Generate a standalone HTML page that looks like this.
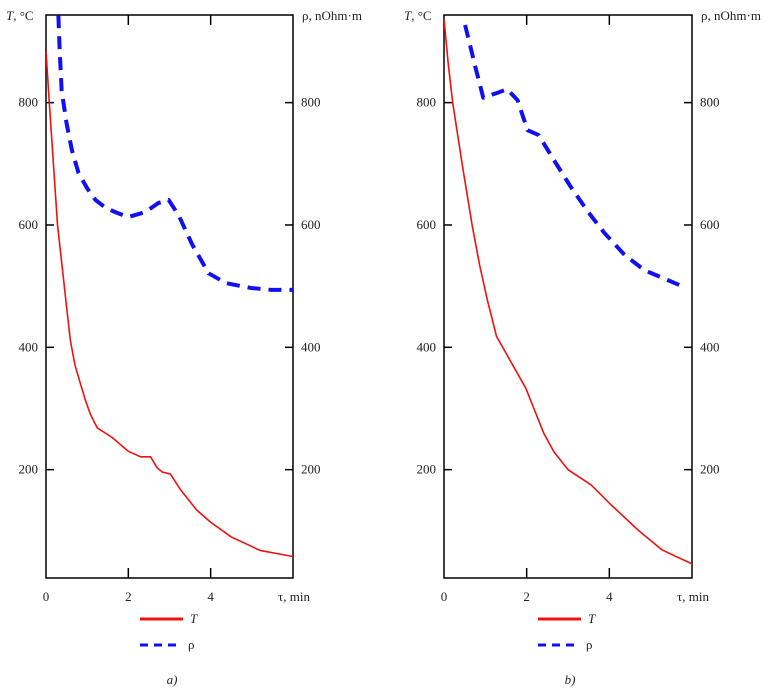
<!DOCTYPE html>
<html><head><meta charset="utf-8"><style>
html,body{margin:0;padding:0;background:#fff}
svg{display:block}
text{font-family:"Liberation Serif",serif;font-size:13px;fill:#222}
</style></head><body>
<svg id="chart" width="772" height="693" viewBox="0 0 772 693"></svg>
<script>
const timeTicks = [0, 2, 4];
const valueTicks = [200, 400, 600, 800];
const aTempTime = [0, 0.08, 0.18, 0.28, 0.41, 0.5, 0.59, 0.7, 0.83, 0.95, 1.07, 1.17, 1.25, 1.6, 2.0, 2.3, 2.54, 2.7, 2.83, 3.02, 3.27, 3.66, 4.0, 4.5, 5.2, 6.0];
const aTempValue = [884, 800, 700, 600, 521, 466, 412, 372, 342, 315, 292, 278, 268, 253, 230, 221, 221, 203, 196, 193, 167, 134, 114, 90, 68, 58];
const aRhoTime = [0.3, 0.33, 0.38, 0.5, 0.63, 0.79, 1.0, 1.2, 1.45, 1.72, 2.0, 2.41, 2.73, 2.98, 3.22, 3.56, 3.95, 4.37, 4.98, 5.46, 6.0];
const aRhoValue = [943, 889, 820, 766, 722, 685, 660, 641, 628, 620, 613, 621, 636, 641, 616, 567, 521, 505, 497, 494, 494];
const bTempTime = [0, 0.1, 0.21, 0.45, 0.68, 0.86, 1.05, 1.27, 1.98, 2.41, 2.66, 3.0, 3.56, 4.05, 4.7, 5.27, 6.0];
const bTempValue = [937, 865, 800, 695, 600, 535, 477, 418, 333, 260, 229, 200, 175, 142, 101, 69, 46];
const bRhoTime = [0.51, 0.76, 0.95, 1.29, 1.53, 1.78, 2.02, 2.29, 2.66, 3.07, 3.49, 3.88, 4.37, 4.85, 5.76];
const bRhoValue = [927, 858, 808, 816, 822, 804, 755, 747, 706, 662, 621, 587, 551, 526, 500];

const NS = "http://www.w3.org/2000/svg";
const svg = document.getElementById('chart');
function mk(tag, attrs, parent){const e=document.createElementNS(NS,tag);for(const k in attrs)e.setAttribute(k,attrs[k]);(parent||svg).appendChild(e);return e;}
function txt(x,y,s,anchor,parent,italic){const t=mk('text',{x:x,y:y,'text-anchor':anchor||'start'},parent);if(italic)t.setAttribute('font-style','italic');t.textContent=s;return t;}

function panel(id, left, right, tT, tV, rT, rV, label){
  const top=15, bottom=578;
  const xs = t => left + (right-left)*t/6;
  const ys = v => 592 - v*0.6117;
  const g = mk('g',{});
  
  
  const box = mk('rect',{x:left,y:top,width:right-left,height:bottom-top,fill:'none',stroke:'#000','stroke-width':1.5},g);
  
  
  timeTicks.forEach(t=>{
    if(t>0){
      const a=mk('line',{x1:xs(t),x2:xs(t),y1:bottom,y2:bottom-10,stroke:'#000','stroke-width':1.5},g);
      
      
      const b=mk('line',{x1:xs(t),x2:xs(t),y1:top,y2:top+10,stroke:'#000','stroke-width':1.5},g);
      
      
    }
    const l=txt(xs(t),601,String(t),'middle',g);
    
    
  });
  valueTicks.forEach(v=>{
    const a=mk('line',{x1:left,x2:left+8,y1:ys(v),y2:ys(v),stroke:'#000','stroke-width':1.5},g);
    
    
    const b=mk('line',{x1:right-8,x2:right,y1:ys(v),y2:ys(v),stroke:'#000','stroke-width':1.5},g);
    
    
    const l=txt(left-8,ys(v)+4,String(v),'end',g);
    
    
    const r=txt(right+8,ys(v)+4,String(v),'start',g);
    
    
  });
  const yt=mk('text',{x:left-40,y:20},g);
  
  
  yt.innerHTML='<tspan font-style="italic">T</tspan>, °C';
  const rt=txt(right+9,20,'ρ, nOhm·m','start',g);
  
  
  const xt=txt(right+17,601,'τ, min','end',g);
  
  
  const clip=mk('clipPath',{id:'clip'+id},g);
  mk('rect',{x:left,y:top,width:right-left,height:bottom-top},clip);
  const tp=mk('polyline',{points:tT.map((t,i)=>xs(t)+','+ys(tV[i])).join(' '),fill:'none',stroke:'#f01010','stroke-width':1.6,'stroke-linejoin':'round','clip-path':'url(#clip'+id+')'},g);
  
  
  const rp=mk('polyline',{points:rT.map((t,i)=>xs(t)+','+ys(rV[i])).join(' '),fill:'none',stroke:'#1010f0','stroke-width':4,'stroke-dasharray':'13 8','stroke-linejoin':'round','clip-path':'url(#clip'+id+')'},g);
  
  
  const lx=left+94;
  const l1=mk('line',{x1:lx,x2:lx+43,y1:619,y2:619,stroke:'#f01010','stroke-width':3},g);
  
  
  const lt=txt(lx+50,623,'T','start',g,true);
  
  
  const l2=mk('line',{x1:lx,x2:lx+39,y1:645,y2:645,stroke:'#1010f0','stroke-width':3,'stroke-dasharray':'8 6'},g);
  
  
  const lr=txt(lx+48,649,'ρ','start',g);
  
  
  const cap=txt(lx+32,684,label,'middle',g,true);
  
  
}
panel('a',46,293,aTempTime,aTempValue,aRhoTime,aRhoValue,'a)');
panel('b',444,692,bTempTime,bTempValue,bRhoTime,bRhoValue,'b)');
</script>
</body></html>
